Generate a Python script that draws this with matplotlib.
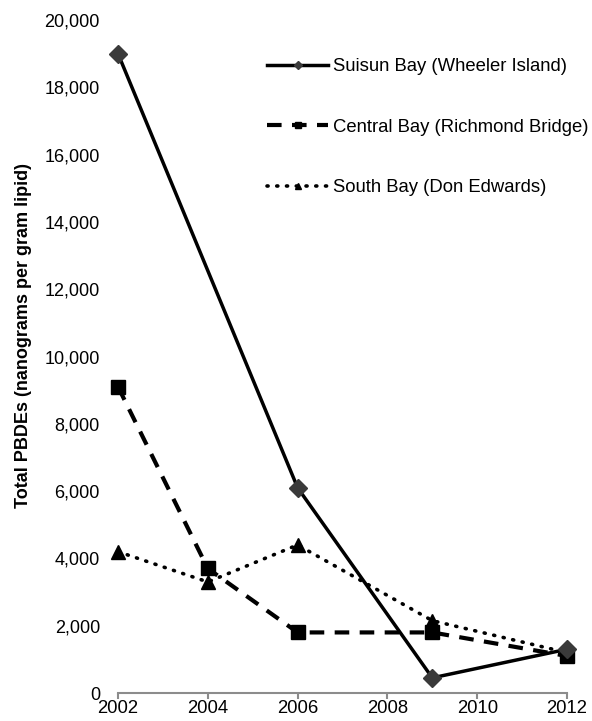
import matplotlib.pyplot as plt
from matplotlib.ticker import FuncFormatter

plt.rcParams['font.family'] = ['Liberation Sans', 'DejaVu Sans']

years = [2002, 2004, 2006, 2009, 2012]
suisun = [19000, 6100, 450, 1300]
suisun_years = [2002, 2006, 2009, 2012]
central = [9100, 3700, 1800, 1800, 1100]
south = [4200, 3300, 4400, 2150, 1200]

labels = ['Suisun Bay (Wheeler Island)',
          'Central Bay (Richmond Bridge)',
          'South Bay (Don Edwards)']

fig = plt.figure(figsize=(5.92, 7.21), dpi=100)
ax = fig.add_axes([118 / 592, 28 / 721, 449 / 592, 673 / 721])

ax.plot(suisun_years, suisun, color='black', lw=2.5, marker='D',
        markersize=9, markerfacecolor='#3a3a3a', markeredgecolor='#3a3a3a',
        label=labels[0], zorder=3)
ax.plot(years, central, color='black', lw=3, linestyle=(0, (3.5, 2.5)),
        marker='s', markersize=10, label=labels[1], zorder=2)
ax.plot(years, south, color='black', lw=2.6, linestyle=(0, (0.3, 2.4)),
        dash_capstyle='round', marker='^', markersize=10,
        label=labels[2], zorder=2)

ax.set_xlim(2002, 2012)
ax.set_ylim(0, 20000)
ax.set_xticks(range(2002, 2013, 2))
ax.set_yticks(range(0, 20001, 2000))
ax.yaxis.set_major_formatter(FuncFormatter(lambda v, p: f'{int(v):,}'))

for s in ['top', 'right', 'left']:
    ax.spines[s].set_visible(False)
ax.spines['bottom'].set_color('#8c8c8c')
ax.spines['bottom'].set_linewidth(1.5)
ax.spines['bottom'].set_zorder(1)
ax.tick_params(axis='y', length=0, pad=13, labelsize=13)
ax.tick_params(axis='x', length=4, width=1.5, color='#8c8c8c',
               labelsize=13.3, pad=1)

ax.set_ylabel('Total PBDEs (nanograms per gram lipid)', fontsize=13,
              fontweight='bold')
ax.yaxis.set_label_coords(-86 / 449, (693 - 336) / 673)
for ln in ax.lines:
    ln.set_clip_on(False)

leg = ax.legend(loc='upper left', bbox_to_anchor=(0.295, 0.968), frameon=False,
                fontsize=13.3, handlelength=3.3, labelspacing=2.35,
                markerscale=0.5, handletextpad=0.25)

plt.savefig('out.png', dpi=100)
